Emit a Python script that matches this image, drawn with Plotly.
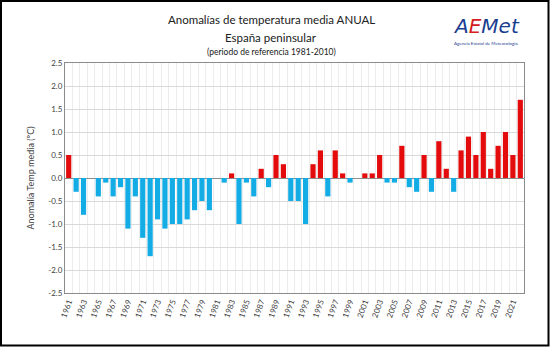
import plotly.graph_objects as go

years = list(range(1961, 2023))
anomalies = [0.5, -0.3, -0.8, 0.0, -0.4, -0.1, -0.4, -0.2, -1.1, -0.4,
             -1.3, -1.7, -0.9, -1.1, -1.0, -1.0, -0.9, -0.7, -0.5, -0.7,
             0.0, -0.1, 0.1, -1.0, -0.1, -0.4, 0.2, -0.2, 0.5, 0.3,
             -0.5, -0.5, -1.0, 0.3, 0.6, -0.4, 0.6, 0.1, -0.1, 0.0,
             0.1, 0.1, 0.5, -0.1, -0.1, 0.7, -0.2, -0.3, 0.5, -0.3,
             0.8, 0.2, -0.3, 0.6, 0.9, 0.5, 1.0, 0.2, 0.7, 1.0,
             0.5, 1.7]
x_tick_years = list(range(1961, 2023, 2))
y_tick_vals = [2.5, 2.0, 1.5, 1.0, 0.5, 0.0, -0.5, -1.0, -1.5, -2.0, -2.5]
y_tick_text = ["2.5", "2.0", "1.5", "1.0", "0.5", "0.0", "-0.5", "-1.0", "-1.5", "-2.0", "-2.5"]

RED = "#e30b0b"
BLUE = "#14ace4"
colors = [RED if v > 0 else BLUE for v in anomalies]

fig = go.Figure(go.Bar(x=years, y=anomalies, marker=dict(color=colors, line=dict(width=0)),
                       width=0.7, showlegend=False))

W, H = 550, 347
L, R, T, B = 65, 26, 63, 54
pw, ph = W - L - R, H - T - B

fig.update_layout(
    width=W, height=H,
    margin=dict(l=L, r=R, t=T, b=B),
    paper_bgcolor="white", plot_bgcolor="white",
    font=dict(family="Lato, Open Sans, sans-serif", color="#404040"),
    bargap=0.3,
    xaxis=dict(
        range=[1960.5, 2022.5],
        tickmode="array", tickvals=x_tick_years, ticktext=[str(y) for y in x_tick_years],
        tickangle=-70, tickfont=dict(size=8, color="#404040"),
        showgrid=False, zeroline=False,
        showline=True, linecolor="#8c8c8c", linewidth=1, mirror=True,
        ticks="",
        minor=dict(tick0=1960.5, dtick=1, showgrid=True, gridcolor="#ececec", gridwidth=1),
    ),
    yaxis=dict(
        range=[-2.5, 2.5],
        tickmode="array", tickvals=y_tick_vals, ticktext=y_tick_text,
        tickfont=dict(size=8, color="#404040"),
        showgrid=True, gridcolor="#d9d9d9", gridwidth=1,
        zeroline=True, zerolinecolor="#8c8c8c", zerolinewidth=1,
        showline=True, linecolor="#8c8c8c", linewidth=1, mirror=True,
        ticks="", ticklen=0,
        title=dict(text="Anomalía Temp media (ºC)", font=dict(size=9, color="#404040"), standoff=12),
    ),
)

def px(xp):
    return (xp - L) / pw

def py(yp):
    return (H - B - yp) / ph

annotations = [
    dict(text="Anomalías de temperatura media ANUAL", x=px(271), y=py(20), font=dict(size=11.5, color="#202020")),
    dict(text="España peninsular", x=px(271), y=py(37), font=dict(size=11.5, color="#202020")),
    dict(text="(periodo de referencia 1981-2010)", x=px(271), y=py(52), font=dict(size=8.5, color="#202020")),
    dict(text="<i><span style='color:#1a3d8f'>A</span><span style='color:#d42020'>E</span>"
              "<span style='color:#1a3d8f'>Met</span></i>",
         x=px(486), y=py(26), font=dict(size=20, family="DejaVu Sans, sans-serif")),
    dict(text="Agencia Estatal de Meteorología", x=px(486), y=py(43), font=dict(size=4.5, color="#1a3d8f")),
]
for a in annotations:
    a.update(xref="paper", yref="paper", showarrow=False, xanchor="center", yanchor="middle")
fig.update_layout(annotations=annotations)

fig.add_shape(type="rect", xref="paper", yref="paper",
              x0=px(1), x1=px(W - 1.5), y0=py(H - 1.5), y1=py(1),
              line=dict(color="black", width=2), fillcolor="rgba(0,0,0,0)", layer="above")

fig.write_html("out.html")
